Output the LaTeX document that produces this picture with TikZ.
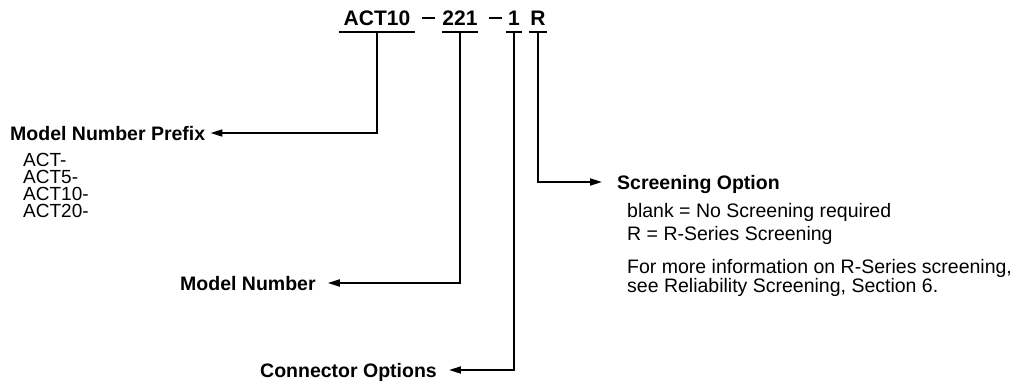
\documentclass[tikz,border=0pt]{standalone}
\usepackage{fontspec}
\setmainfont{Liberation Sans}
\usetikzlibrary{arrows.meta}
\begin{document}
\begin{tikzpicture}[x=1pt,y=-1pt,
  line/.style={line width=1.8pt, line cap=butt},
  conn/.style={line width=1.8pt, -{Triangle[length=12pt,width=7pt]}},
  part/.style={font=\fontsize{21}{24}\selectfont\bfseries, inner sep=0pt, anchor=base, text depth=7pt},
  lbl/.style={font=\fontsize{19.5}{22}\selectfont\bfseries, inner ysep=0pt, inner xsep=0pt, text height=14pt, text depth=0pt, anchor=base west},
  txt/.style={font=\fontsize{19.5}{22}\selectfont, inner sep=0pt, text height=13pt, text depth=2pt, anchor=base west},
  item/.style={font=\fontsize{19}{22}\selectfont, inner sep=0pt, text height=13pt, text depth=2pt, anchor=base west}]
\useasboundingbox (0,0) rectangle (1024,386);
% title parts
\node[part, minimum width=75pt] (p1) at (377,25) {ACT10};
\node[part] (d1) at (428,25) {\rule[6.5pt]{13pt}{2pt}};
\node[part, minimum width=35pt] (p2) at (460,25) {221};
\node[part] (d2) at (495,25) {\rule[6.5pt]{13pt}{2pt}};
\node[part, minimum width=15pt] (p3) at (514,25) {1};
\node[part, minimum width=18pt] (p4) at (538,25) {R};
\foreach \p in {p1,p2,p3,p4}
  \draw[line] (\p.south west) -- (\p.south east);
% labels
\node[lbl] (prefix) at (10,140) {Model Number Prefix};
\node[item] (a1) at (23,166) {ACT-};
\node[item] (a2) at (23,183) {ACT5-};
\node[item] (a3) at (23,200) {ACT10-};
\node[item] (a4) at (23,217) {ACT20-};
\node[lbl] (mnum) at (180,290) {Model Number};
\node[lbl] (copt) at (260,377) {Connector Options};
\node[lbl] (scr) at (617,189) {Screening Option};
\node[txt] (s1) at (627,217) {blank = No Screening required};
\node[txt] (s2) at (627,240) {R = R-Series Screening};
\node[txt] (s3) at (627,273) {For more information on R-Series screening,};
\node[txt] (s4) at (627,292) {see Reliability Screening, Section 6.};
% connectors
\draw[conn, shorten >=5pt] (p1.south) |- (prefix.east);
\draw[conn, shorten >=12pt] (p2.south) |- (mnum.east);
\draw[conn, shorten >=12pt] (p3.south) |- (copt.east);
\draw[conn, shorten >=15pt] (p4.south) |- (scr.west);
\end{tikzpicture}
\end{document}
